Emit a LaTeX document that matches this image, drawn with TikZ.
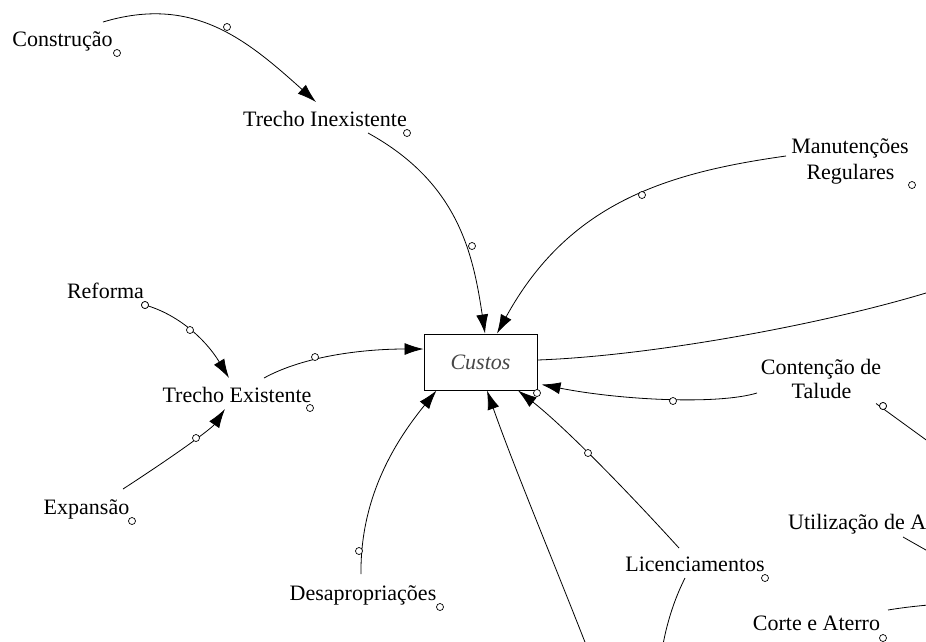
\documentclass[tikz,border=0pt]{standalone}
\usepackage{fontspec}
\setmainfont{Liberation Serif}
\usetikzlibrary{arrows.meta}
\begin{document}
\begin{tikzpicture}[x=1pt,y=-1pt,
  lbl/.style={inner sep=0pt, anchor=base, font=\fontsize{22}{26}\selectfont},
  lblw/.style={inner sep=0pt, anchor=base west, font=\fontsize{22}{26}\selectfont},
  stockbox/.style={draw, line width=1pt, minimum width=113pt, minimum height=56pt, inner sep=0pt,
     font=\fontsize{22}{26}\selectfont\itshape, text=black!72},
  conn/.style={line width=0.8pt},
  arr/.style={conn, -{Latex[length=19pt,width=12pt]}},
  handle/.style={circle, draw, fill=white, inner sep=0pt, minimum size=7pt, line width=0.7pt}
]
\useasboundingbox (0,0) rectangle (926,641);

% labels
\node[lbl] (constr) at (62.5,46) {Construção};
\node[lbl] (trin) at (325,126) {Trecho Inexistente};
\node[lbl] (manA) at (850,153) {Manutenções};
\node[lbl] (manB) at (850.5,179) {Regulares};
\node[lbl] (reforma) at (105.5,298) {Reforma};
\node[lbl] (trex) at (237,402) {Trecho Existente};
\node[lbl] (expansao) at (86.5,514) {Expansão};
\node[lbl] (desap) at (363,600) {Desapropriações};
\node[lbl] (contA) at (821,374) {Contenção de};
\node[lbl] (contB) at (821.5,398) {Talude};
\node[lbl] (licen) at (695,571) {Licenciamentos};
\node[lblw] (util) at (788,529) {Utilização de Al};
\node[lbl] (corte) at (816.5,630) {Corte e Aterro};
\node[stockbox] (custos) at (480.5,362) {Custos};

% handles next to labels
\node[handle] (constrh) at (117,53) {};
\node[handle] (trinh) at (407,133) {};
\node[handle] (manh) at (912,185) {};
\node[handle] (refh) at (145,305) {};
\node[handle] (trexh) at (310,408) {};
\node[handle] (exph) at (132,521) {};
\node[handle] (desaph) at (440,607) {};
\node[handle] (talh) at (883,406) {};
\node[handle] (licenh) at (765,578) {};
\node[handle] (corteh) at (883,638) {};

% free ends beyond the frame
\coordinate (offA) at (926,293);
\coordinate (offB) at (940,450);
\coordinate (offC) at (590,655);
\coordinate (offD) at (662,650);
\coordinate (offE) at (940,558);
\coordinate (offF) at (940,604);

% connectors
\draw[arr] ([shift={(40.5,-24)}]constr.base) .. controls (193,-5) and (246,39) .. ([shift={(-9,-24)}]trin.base);
\draw[arr] ([shift={(43,7)}]trin.base) .. controls (458,182.5) and (473,253) .. ([shift={(4.5,0)}]custos.north);
\draw[arr] ([shift={(-64,3)}]manA.base) .. controls (666,172.8) and (568.5,203) .. ([shift={(16.5,0)}]custos.north);
\draw[conn] ([shift={(0,-2)}]custos.east) .. controls (650,356) and (820,325) .. (offA);
\draw[arr] ([shift={(-64,19)}]contA.base) .. controls (717,405) and (620,400) .. ([shift={(4,-6)}]custos.south east);
\draw[conn] ([shift={(-7,-2.5)}]talh.center) -- (offB);
\draw[arr] ([shift={(-16,-23)}]licen.base) .. controls (611.3,473.7) and (557.7,421.3) .. ([shift={(37.5,0)}]custos.south);
\draw[arr] (offC) .. controls (555,565) and (515,470) .. ([shift={(6.5,0)}]custos.south);
\draw[conn] ([shift={(-10,7)}]licen.base) .. controls (678,592) and (668,615) .. (offD);
\draw[conn] ([shift={(115,8)}]util.base west) -- (offE);
\draw[conn] ([shift={(71.5,-20)}]corte.base) .. controls (900,608) and (915,606) .. (offF);
\draw[arr] (refh.center) .. controls (177,314) and (205,338.3) .. ([shift={(-8,-24)}]trex.base);
\draw[arr] ([shift={(36.5,-25)}]expansao.base) .. controls (180,452) and (212,428) .. ([shift={(-12,7)}]trex.base);
\draw[arr] ([shift={(27,-24)}]trex.base) .. controls (304,356) and (363,349) .. ([shift={(0,-13)}]custos.west);
\draw[arr] ([shift={(-2,-26)}]desap.base) .. controls (360,494) and (398.6,437.2) .. ([shift={(13,0)}]custos.south west);

% handles on connectors
\node[handle] (h1) at (227,27) {};
\node[handle] (h2) at (472,246) {};
\node[handle] (h3) at (642,195) {};
\node[handle] (h5) at (673,401) {};
\node[handle] (h7) at (588,453) {};
\node[handle] (h12) at (190,330) {};
\node[handle] (h13) at (196,438) {};
\node[handle] (h14) at (315,357) {};
\node[handle] (h15) at (359,551) {};
\node[handle] (custosh) at (537,393) {};
\node[handle] (refh2) at (145,305) {};
\node[handle] (talh2) at (883,406) {};
\end{tikzpicture}
\end{document}
